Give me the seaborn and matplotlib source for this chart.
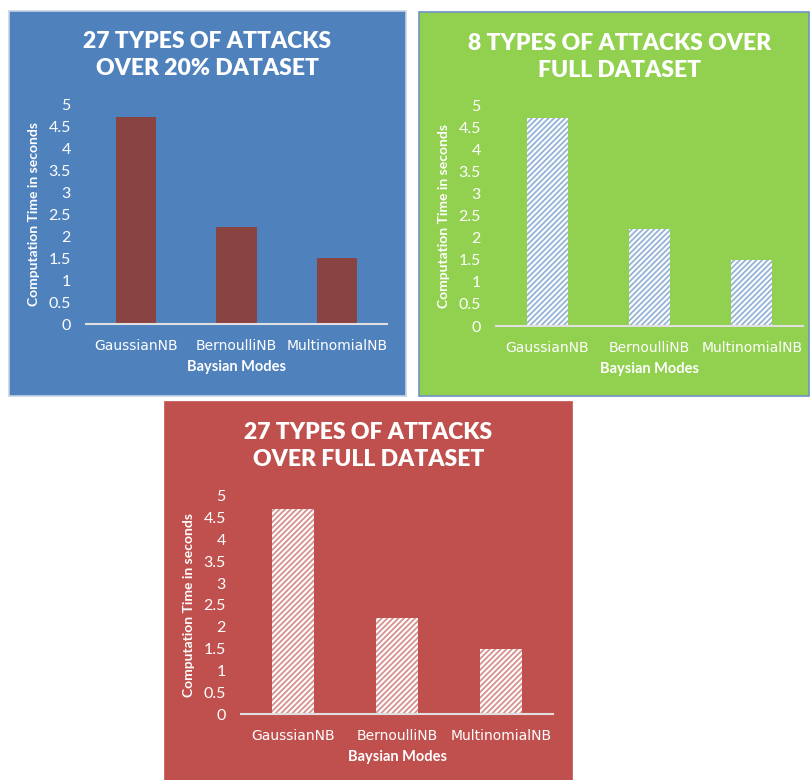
import matplotlib
matplotlib.use("Agg")
import matplotlib.pyplot as plt
import seaborn as sns
from matplotlib.patches import Rectangle

sns.set_style("white")
plt.rcParams['font.family'] = ['Lato', 'DejaVu Sans']

# data
models = ['GaussianNB', 'BernoulliNB', 'MultinomialNB']
time_20pct_27 = [4.7, 2.2, 1.5]
time_full_8 = [4.7, 2.2, 1.5]
time_full_27 = [4.7, 2.2, 1.5]
titles = ['27 TYPES OF ATTACKS\nOVER 20% DATASET',
          '8 TYPES OF ATTACKS OVER\nFULL DATASET',
          '27 TYPES OF ATTACKS\nOVER FULL DATASET']
yticks = [0, 0.5, 1, 1.5, 2, 2.5, 3, 3.5, 4, 4.5, 5]
ytick_labels = ['0', '0.5', '1', '1.5', '2', '2.5', '3', '3.5', '4', '4.5', '5']

W, H = 810, 780
fig = plt.figure(figsize=(W / 100, H / 100), dpi=100)
fig.patch.set_facecolor('white')


def fx(x):
    return x / W


def fy(y):
    return 1 - y / H


def panel(box, axbox, color, border, title, title_y, values, bar_kw, title_dx=0):
    x0, y0, x1, y1 = box
    fig.patches.append(Rectangle((fx(x0), fy(y1)), fx(x1 - x0), (y1 - y0) / H,
                                 transform=fig.transFigure, facecolor=color,
                                 edgecolor=border, linewidth=1.2, zorder=-5))
    l, t, r, b = axbox
    ax = fig.add_axes([fx(l), fy(b), fx(r - l), (b - t) / H])
    ax.set_zorder(2)
    ax.patch.set_alpha(0)
    sns.barplot(x=models, y=values, ax=ax, width=0.4, **bar_kw)
    ax.set_ylim(0, 5)
    ax.set_xlim(-0.5, 2.5)
    ax.set_yticks(yticks)
    ax.set_yticklabels(ytick_labels)
    ax.set_xticks(range(len(models)))
    ax.set_xticklabels(models, fontfamily=['DejaVu Sans'], fontsize=10)
    ax.set_xticks([-0.5, 0.5, 1.5, 2.5], minor=True)
    ax.tick_params(axis='x', which='major', length=0, pad=11, colors='white')
    ax.tick_params(axis='x', which='minor', length=5, width=1.3, color='#E0E0E0', direction='out')
    ax.tick_params(axis='y', length=0, pad=11, colors='white', labelsize=11.5)
    for s in ['top', 'right', 'left']:
        ax.spines[s].set_visible(False)
    ax.spines['bottom'].set_color('#E0E0E0')
    ax.spines['bottom'].set_linewidth(1.5)
    ax.set_xlabel('Baysian Modes', color='white', fontsize=10.5, fontweight='bold', labelpad=5)
    ax.set_ylabel('Computation Time in seconds', color='white', fontsize=10,
                  fontweight='bold', labelpad=6)
    cx = (x0 + x1) / 2
    fig.text(fx(cx + title_dx), fy(title_y), title, ha='center', va='center',
             color='white', fontsize=16.5, fontweight='heavy', linespacing=1.35, zorder=3)
    return ax


panel((9, 11, 406, 396), (86, 104, 387, 324), '#4F81BD', '#C8D3E3', titles[0], 55,
      time_20pct_27, dict(color='#953735', linewidth=0))

plt.rcParams['hatch.linewidth'] = 1.3
panel((419, 12, 809, 396), (496, 105, 803, 326), '#92D050', '#6F93C6', titles[1], 57,
      time_full_8, dict(facecolor='white', edgecolor='#95B3D7', hatch='//////', linewidth=0),
      title_dx=6)

panel((165, 402, 572, 780), (241, 496, 553, 714), '#C0504D', '#C0504D', titles[2], 446,
      time_full_27, dict(facecolor='white', edgecolor='#D8908E', hatch='//////', linewidth=0))

fig.savefig('out.png', dpi=100)
